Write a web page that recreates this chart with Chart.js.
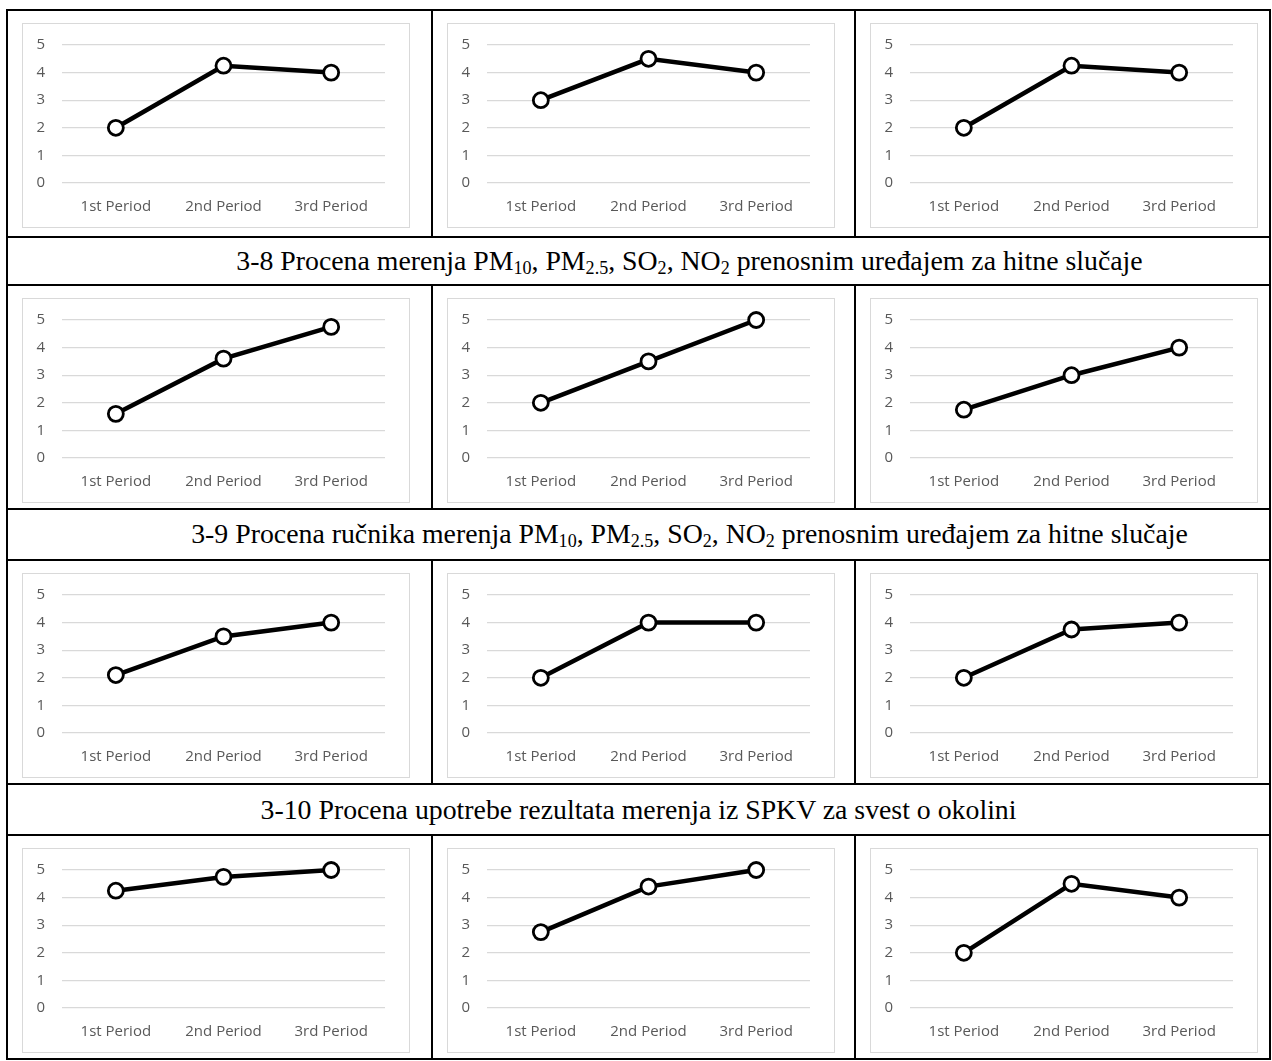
<!DOCTYPE html>
<html>
<head>
<meta charset="utf-8">
<script src="https://cdn.jsdelivr.net/npm/chart.js@4.4.1/dist/chart.umd.min.js"></script>
<style>
  body { margin: 0; background: #fff; width: 1272px; height: 1061px; overflow: hidden; }
  #sheet { position: relative; width: 1272px; height: 1061px; }
  .hline, .vline { position: absolute; background: #000; }
  .frame { position: absolute; border: 1px solid #d9d9d9; box-sizing: border-box; background: #fff; }
  .frame canvas { display: block; }
  .caption {
    position: absolute; display: flex; align-items: center; justify-content: center;
    font-family: "Liberation Serif", "Times New Roman", serif; font-size: 27.8px; color: #000;
    white-space: nowrap; box-sizing: border-box;
  }
  .caption sub { font-size: 0.65em; vertical-align: -0.22em; line-height: 1; }
</style>
</head>
<body>
<div id="sheet"></div>
<script>
// x labels
const periods = ['1st Period', '2nd Period', '3rd Period'];
const yTicks = [0, 1, 2, 3, 4, 5];

// caption rows between the chart rows
const captions = [
  '3-8 Procena merenja PM<sub>10</sub>, PM<sub>2.5</sub>, SO<sub>2</sub>, NO<sub>2</sub> prenosnim uređajem za hitne slučaje',
  '3-9 Procena ručnika merenja PM<sub>10</sub>, PM<sub>2.5</sub>, SO<sub>2</sub>, NO<sub>2</sub> prenosnim uređajem za hitne slučaje',
  '3-10 Procena upotrebe rezultata merenja iz SPKV za svest o okolini'
];
// the first two captions sit a little right of centre in the original
const captionShift = [102, 102, 0];

// values, row by row
const row1 = [[2, 4.25, 4], [3, 4.5, 4], [2, 4.25, 4]];
const row2 = [[1.6, 3.6, 4.75], [2, 3.5, 5], [1.75, 3, 4]];
const row3 = [[2.1, 3.5, 4], [2, 4, 4], [2, 3.75, 4]];
const row4 = [[4.25, 4.75, 5], [2.75, 4.4, 5], [2, 4.5, 4]];
const rows = [row1, row2, row3, row4];

// table geometry
const colX = [7, 432, 855, 1270];
const rowY = [10, 237, 285, 509, 560, 784, 835, 1059];
const sheet = document.getElementById('sheet');

function line(cls, x, y, w, h) {
  const d = document.createElement('div');
  d.className = cls;
  Object.assign(d.style, { left: x + 'px', top: y + 'px', width: w + 'px', height: h + 'px' });
  sheet.appendChild(d);
}

// horizontal rules
rowY.forEach(y => line('hline', colX[0] - 1, y - 1, colX[3] - colX[0] + 2, 2));
// outer verticals
line('vline', colX[0] - 1, rowY[0], 2, rowY[7] - rowY[0]);
line('vline', colX[3] - 1, rowY[0], 2, rowY[7] - rowY[0]);
// inner verticals only in chart rows
for (let r = 0; r < 4; r++) {
  const y0 = rowY[r * 2], y1 = r === 0 ? rowY[1] : rowY[r * 2 + 1];
  [colX[1], colX[2]].forEach(x => line('vline', x - 1, y0, 2, y1 - y0));
}

// captions
captions.forEach((html, i) => {
  const d = document.createElement('div');
  d.className = 'caption';
  const y0 = rowY[i * 2 + 1], y1 = rowY[i * 2 + 2];
  Object.assign(d.style, {
    left: colX[0] + 'px', top: y0 + 'px',
    width: (colX[3] - colX[0]) + 'px', height: (y1 - y0) + 'px',
    paddingLeft: captionShift[i] + 'px'
  });
  d.innerHTML = '<span>' + html + '</span>';
  sheet.appendChild(d);
});

const tickFont = { family: '"Open Sans", sans-serif', size: 15 };

function makeChart(canvas, values) {
  return new Chart(canvas.getContext('2d'), {
    type: 'line',
    data: {
      labels: periods,
      datasets: [{
        data: values,
        borderColor: '#000',
        borderWidth: 4.5,
        tension: 0,
        pointRadius: 7.5,
        pointHoverRadius: 7.5,
        pointBorderWidth: 2.8,
        pointBackgroundColor: '#fff',
        pointBorderColor: '#000',
        clip: false
      }]
    },
    options: {
      responsive: true,
      maintainAspectRatio: false,
      animation: false,
      events: [],
      layout: { autoPadding: false, padding: { left: 13, right: 24, top: 21, bottom: 2 } },
      plugins: { legend: { display: false }, tooltip: { enabled: false } },
      scales: {
        x: {
          offset: true,
          grid: { display: false },
          border: { display: false },
          ticks: { color: '#595959', font: tickFont, padding: 7, maxRotation: 0 },
          afterFit: s => { s.height = 42; s.paddingLeft = 0; s.paddingRight = 0; }
        },
        y: {
          min: 0,
          max: 5,
          afterBuildTicks: s => { s.ticks = yTicks.map(v => ({ value: v })); },
          grid: { color: '#d9d9d9', lineWidth: 1.3, drawTicks: false },
          border: { display: false },
          ticks: { color: '#595959', font: tickFont, padding: 17 },
          afterFit: s => { s.width = 26; s.paddingTop = 0; s.paddingBottom = 0; }
        }
      }
    }
  });
}

rows.forEach((vals, r) => {
  const y0 = rowY[r * 2];
  vals.forEach((v, c) => {
    const f = document.createElement('div');
    f.className = 'frame';
    Object.assign(f.style, { left: (colX[c] + 15) + 'px', top: (y0 + 13) + 'px', width: '388px', height: '205px' });
    const cv = document.createElement('canvas');
    f.appendChild(cv);
    sheet.appendChild(f);
    makeChart(cv, v);
  });
});
</script>
</body>
</html>
